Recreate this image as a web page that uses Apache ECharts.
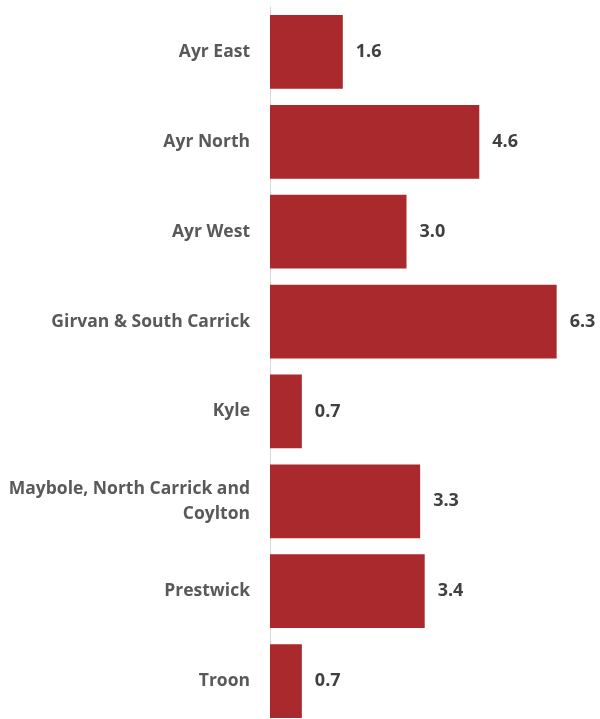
<!DOCTYPE html>
<html>
<head>
<meta charset="utf-8">
<script src="https://cdn.jsdelivr.net/npm/echarts@6/dist/echarts.min.js"></script>
<style>html,body{margin:0;padding:0;background:#fff;}#chart{width:600px;height:719px;}</style>
</head>
<body>
<div id="chart"></div>
<script>
const categories = ["Ayr East", "Ayr North", "Ayr West", "Girvan & South Carrick", "Kyle", "Maybole, North Carrick and\nCoylton", "Prestwick", "Troon"];
const values = [1.6, 4.6, 3.0, 6.3, 0.7, 3.3, 3.4, 0.7];

const chart = echarts.init(document.getElementById('chart'));
chart.setOption({
  animation: false,
  grid: { left: 270, width: 318.5, top: 7, height: 719, containLabel: false, outerBoundsMode: 'none' },
  xAxis: {
    type: 'value', min: 0, max: 7,
    show: false
  },
  yAxis: {
    type: 'category', data: categories, inverse: true,
    axisLine: { show: true, lineStyle: { color: '#d9d9d9', width: 1 } },
    axisTick: { show: false },
    axisLabel: {
      margin: 20, color: '#595959', fontFamily: 'Open Sans', fontWeight: 'bold',
      fontSize: 17.5, lineHeight: 25, align: 'right'
    }
  },
  series: [{
    type: 'bar', data: values, barCategoryGap: '18%',
    itemStyle: { color: '#A9292C' },
    label: {
      show: true, position: 'right', distance: 13,
      color: '#404040', fontFamily: 'Open Sans', fontWeight: 'bold', fontSize: 18,
      formatter: p => p.value.toFixed(1)
    }
  }]
});
</script>
</body>
</html>
